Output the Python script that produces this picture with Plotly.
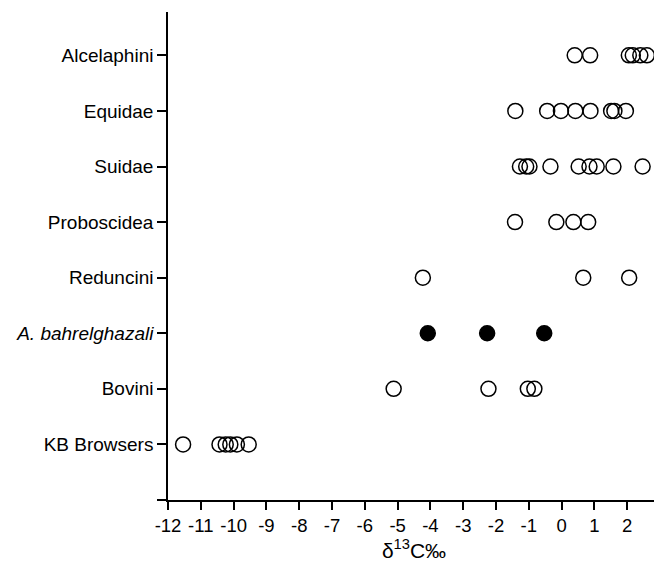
import plotly.graph_objects as go

categories = ["Alcelaphini", "Equidae", "Suidae", "Proboscidea", "Reduncini",
              "<i>A. bahrelghazali</i>", "Bovini", "KB Browsers"]
positions = [8, 7, 6, 5, 4, 3, 2, 1]

alcelaphini = [0.40, 0.87, 2.05, 2.17, 2.40, 2.60]
equidae = [-1.41, -0.44, -0.02, 0.42, 0.88, 1.51, 1.61, 1.96]
suidae = [-1.27, -1.08, -0.98, -0.34, 0.52, 0.85, 1.07, 1.58, 2.47]
proboscidea = [-1.42, -0.16, 0.36, 0.81]
reduncini = [-4.23, 0.66, 2.06]
bahrelghazali = [-4.08, -2.27, -0.53]
bovini = [-5.12, -2.23, -1.03, -0.83]
kb_browsers = [-11.54, -10.43, -10.24, -10.10, -9.90, -9.54]

series = [alcelaphini, equidae, suidae, proboscidea, reduncini,
          bahrelghazali, bovini, kb_browsers]
filled = [False, False, False, False, False, True, False, False]

xticks = list(range(-12, 4))

fig = go.Figure()
for vals, pos, fill in zip(series, positions, filled):
    fig.add_trace(go.Scatter(
        x=vals, y=[pos] * len(vals), mode="markers", cliponaxis=False,
        marker=dict(symbol="circle" if fill else "circle-open", size=15,
                    color="black", line=dict(width=1.5, color="black")),
        showlegend=False, hoverinfo="x"))

font = "Liberation Sans, Arial, sans-serif"
fig.update_layout(
    width=654, height=559,
    margin=dict(l=160, r=2, t=4, b=67),
    plot_bgcolor="white", paper_bgcolor="white",
    font=dict(family=font, color="black"),
    xaxis=dict(range=[-12, 3], tickvals=xticks, ticktext=[str(v) for v in xticks],
               automargin=False, ticklabeloverflow="allow",
               showline=True, linecolor="black", linewidth=1.5,
               ticks="outside", ticklen=8, tickwidth=1.5, tickcolor="black",
               showgrid=False, zeroline=False, tickfont=dict(size=18.5),
               title=dict(text="δ<sup>13</sup>C‰", font=dict(size=21), standoff=4)),
    yaxis=dict(range=[0, 8.78], tickvals=[0] + positions, ticktext=[""] + categories,
               automargin=False,
               showline=True, linecolor="black", linewidth=1.5,
               ticks="outside", ticklen=9, tickwidth=1.5, tickcolor="black",
               showgrid=False, zeroline=False, tickfont=dict(size=19)),
)
fig.write_html("out.html")
